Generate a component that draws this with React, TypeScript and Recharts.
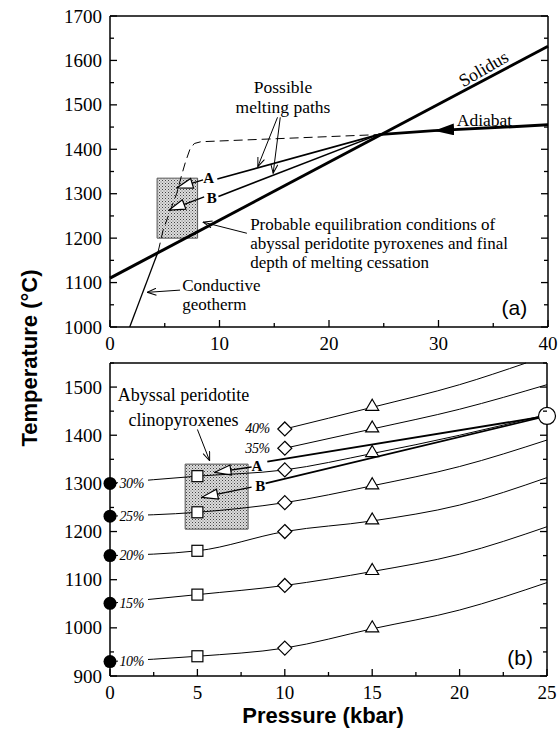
import React from 'react';
import { ComposedChart, Line, Scatter, XAxis, YAxis, ReferenceArea } from 'recharts';

const SERIF = '"Liberation Serif", "Times New Roman", serif';
const SANS = '"Liberation Sans", Arial, sans-serif';

// ---------- panel (a): solidus, adiabat and melting paths ----------
const aPressureTicks = [0, 5, 10, 15, 20, 25, 30, 35, 40];
const aTempTicks = [1000, 1050, 1100, 1150, 1200, 1250, 1300, 1350, 1400, 1450, 1500, 1550, 1600, 1650, 1700];

const solidusP = [0, 40];
const solidusT = [1110, 1632];
const adiabatP = [40, 29.6, 24.5];
const adiabatT = [1455, 1442, 1433];
const geothermP = [1.8, 4.4];
const geothermT = [1000, 1170];
const geothermExtP = [4.4, 4.85, 5.5, 6.1, 6.5, 6.9, 7.3, 7.7, 8.3, 24.5];
const geothermExtT = [1170, 1218, 1262, 1301, 1338, 1372, 1400, 1413, 1417, 1433];
const pathAP = [24.5, 9.8];
const pathAT = [1433, 1333];
const pathBP = [24.5, 9.9];
const pathBT = [1433, 1294];

const aArrowAP = [8.5, 6.1];
const aArrowAT = [1331, 1313];
const aArrowBP = [8.6, 5.4];
const aArrowBT = [1293, 1263];
const pointerPaths1P = [15.3, 13.5];
const pointerPaths1T = [1472, 1361];
const pointerPaths2P = [15.55, 14.9];
const pointerPaths2T = [1472, 1346];
const pointerProbableP = [12.5, 8.5];
const pointerProbableT = [1211, 1236];
const pointerConductiveP = [6.4, 3.4];
const pointerConductiveT = [1083, 1078];

const aBoxP = [4.3, 8.0];
const aBoxT = [1200, 1335];

const aNotes = [
  { p: 15.8, t: 1540, text: 'Possible\nmelting paths', kind: 'center' },
  { p: 34.1, t: 1582, text: 'Solidus', kind: 'rotated' },
  { p: 34.2, t: 1466, text: 'Adiabat', kind: 'center' },
  { p: 12.8, t: 1231, text: 'Probable equilibration conditions of\nabyssal peridotite pyroxenes and final\ndepth of melting cessation', kind: 'left' },
  { p: 6.6, t: 1095, text: 'Conductive\ngeotherm', kind: 'left' },
  { p: 38.1, t: 1043, text: '(a)', kind: 'panel' },
  { p: 9.0, t: 1335, text: 'A', kind: 'letter' },
  { p: 9.3, t: 1292, text: 'B', kind: 'letter' },
];

// ---------- panel (b): isopleths of melting degree ----------
const bPressureTicks = [0, 2.5, 5, 7.5, 10, 12.5, 15, 17.5, 20, 22.5, 25];
const bTempTicks = [900, 950, 1000, 1050, 1100, 1150, 1200, 1250, 1300, 1350, 1400, 1450, 1500, 1550];

const meltLabels = ['10%', '15%', '20%', '25%', '30%', '35%', '40%'];
const fullP = [0, 5, 10, 15, 20, 25];
const melt10T = [930, 941, 958, 998, 1037, 1094];
const melt15T = [1051, 1069, 1088, 1117, 1153, 1210];
const melt20T = [1150, 1160, 1200, 1222, 1255, 1312];
const melt25T = [1232, 1240, 1260, 1295, 1335, 1390];
const melt30T = [1300, 1315, 1328, 1362, 1400, 1443];
const melt35P = [10, 15, 20, 25];
const melt35T = [1373, 1413, 1454, 1505];
const melt40P = [10, 15, 20, 23.8];
const melt40T = [1413, 1458, 1505, 1550];

const bPathAP = [9.0, 25];
const bPathAT = [1345, 1440];
const bPathBP = [8.9, 25];
const bPathBT = [1300, 1440];
const bArrowAP = [8.1, 6.0];
const bArrowAT = [1334, 1323];
const bArrowBP = [8.1, 5.25];
const bArrowBT = [1292, 1271];
const pointerAbyssalP = [5.0, 5.7];
const pointerAbyssalT = [1412, 1347];
const junctionP = [25];
const junctionT = [1440];
const bRightEdgeP = [25, 25];
const bRightEdgeT = [900, 1550];

const bBoxP = [4.3, 7.9];
const bBoxT = [1205, 1340];

const bNotes = [
  { p: 4.2, t: 1484, text: 'Abyssal peridotite\nclinopyroxenes', kind: 'abyssal' },
  { p: 24.2, t: 939, text: '(b)', kind: 'panel' },
  { p: 8.4, t: 1336, text: 'A', kind: 'letter' },
  { p: 8.6, t: 1295, text: 'B', kind: 'letter' },
];

const toPts = (ps: number[], ts: number[]) => ps.map((p, i) => ({ p, t: ts[i] }));

const noteStyles: Record<string, any> = {
  center: { anchor: 'middle', size: 17.5, family: SERIF, lead: 19.5 },
  left: { anchor: 'start', size: 17, family: SERIF, lead: 19 },
  rotated: { anchor: 'middle', size: 18, family: SERIF, lead: 18, rotate: -30 },
  panel: { anchor: 'end', size: 21, family: SANS, lead: 20 },
  letter: { anchor: 'middle', size: 15, family: SERIF, lead: 15, weight: 'bold' },
  abyssal: { anchor: 'middle', size: 18, family: SERIF, lead: 25 },
};

function NoteShape(props: any) {
  const { cx, cy, payload } = props;
  if (cx == null || cy == null) return <g />;
  const st = noteStyles[payload.kind];
  const lines: string[] = payload.text.split('\n');
  return (
    <text
      x={cx}
      y={cy}
      textAnchor={st.anchor}
      fontFamily={st.family}
      fontSize={st.size}
      fontWeight={st.weight || 'normal'}
      fill="#000"
      transform={st.rotate ? `rotate(${st.rotate} ${cx} ${cy})` : undefined}
    >
      {lines.map((ln, i) => (
        <tspan key={i} x={cx} dy={i === 0 ? '0.35em' : st.lead}>
          {ln}
        </tspan>
      ))}
    </text>
  );
}

function JunctionShape(props: any) {
  const { cx, cy } = props;
  if (cx == null || cy == null) return <g />;
  return <circle cx={cx} cy={cy} r={8.5} fill="#fff" stroke="#000" strokeWidth={1.2} />;
}

function FrameTick(props: any) {
  const { x, y, payload, side, step, labels } = props;
  const v = Number(payload.value);
  const major = Math.abs(v / step - Math.round(v / step)) < 1e-6;
  const len = major ? 7 : 4;
  const text = labels && major ? String(v) : null;
  const ln = { stroke: '#000', strokeWidth: 1.3 };
  if (side === 'left') {
    return (
      <g>
        <line x1={x} y1={y} x2={x + len} y2={y} {...ln} />
        {text && (
          <text x={x - 8} y={y + 6.5} textAnchor="end" fontFamily={SERIF} fontSize={19} fill="#000">
            {text}
          </text>
        )}
      </g>
    );
  }
  if (side === 'right') {
    return <line x1={x} y1={y} x2={x - len} y2={y} {...ln} />;
  }
  if (side === 'top') {
    return <line x1={x} y1={y} x2={x} y2={y + len} {...ln} />;
  }
  return (
    <g>
      <line x1={x} y1={y} x2={x} y2={y - len} {...ln} />
      {text && (
        <text x={x} y={y + 23} textAnchor="middle" fontFamily={SERIF} fontSize={19} fill="#000">
          {text}
        </text>
      )}
    </g>
  );
}

function meltDot(label: string) {
  return (props: any) => {
    const { cx, cy, payload, index } = props;
    const key = `d-${label}-${index}`;
    if (cx == null || cy == null) return <g key={key} />;
    const p = payload.p;
    if (p === 0) {
      return (
        <g key={key}>
          <rect x={cx + 8} y={cy - 7} width={30} height={14} fill="#fff" />
          <text x={cx + 9.5} y={cy + 4.5} fontFamily={SERIF} fontStyle="italic" fontSize={14} letterSpacing={-0.4} fill="#000">
            {label}
          </text>
          <circle cx={cx} cy={cy} r={6.5} fill="#000" />
        </g>
      );
    }
    if (p === 5) {
      return <rect key={key} x={cx - 5.5} y={cy - 5.5} width={11} height={11} fill="#fff" stroke="#000" strokeWidth={1.2} />;
    }
    if (p === 10) {
      return (
        <g key={key}>
          {index === 0 && (
            <text x={cx - 15} y={cy + 4.5} textAnchor="end" fontFamily={SERIF} fontStyle="italic" fontSize={14} letterSpacing={-0.4} fill="#000">
              {label}
            </text>
          )}
          <path d={`M${cx},${cy - 7} L${cx + 7},${cy} L${cx},${cy + 7} L${cx - 7},${cy} Z`} fill="#fff" stroke="#000" strokeWidth={1.2} />
        </g>
      );
    }
    if (p === 15) {
      return <path key={key} d={`M${cx},${cy - 8} L${cx + 6.5},${cy + 3} L${cx - 6.5},${cy + 3} Z`} fill="#fff" stroke="#000" strokeWidth={1.2} />;
    }
    return <g key={key} />;
  };
}

function Defs({ id }: { id: string }) {
  return (
    <defs>
      <pattern id={`${id}-stipple`} width={3} height={3} patternUnits="userSpaceOnUse">
        <rect width={3} height={3} fill="#dcdcdc" />
        <rect x={0} y={0} width={1} height={1} fill="#444" />
        <rect x={1.5} y={1.5} width={1} height={1} fill="#777" />
      </pattern>
      <marker id={`${id}-tri`} viewBox="0 0 18 12" markerWidth={18} markerHeight={12} refX={17} refY={6} orient="auto" markerUnits="userSpaceOnUse">
        <path d="M17,6 L1,1 L1,11 Z" fill="#fff" stroke="#000" strokeWidth={1.2} />
      </marker>
      <marker id={`${id}-vee`} viewBox="0 0 10 8" markerWidth={10} markerHeight={8} refX={9.5} refY={4} orient="auto" markerUnits="userSpaceOnUse">
        <path d="M0.5,0.5 L9.5,4 L0.5,7.5" fill="none" stroke="#000" strokeWidth={1} />
      </marker>
      <marker id={`${id}-solid`} viewBox="0 0 20 12" markerWidth={20} markerHeight={12} refX={20} refY={6} orient="auto" markerUnits="userSpaceOnUse">
        <path d="M20,6 L0,0 L0,12 Z" fill="#000" />
      </marker>
    </defs>
  );
}

const axisLine = { stroke: '#000', strokeWidth: 1.5 };

function frameAxes(pDomain: number[], tDomain: number[], pTicks: number[], tTicks: number[], pStep: number, tStep: number, rightLine = true) {
  return [
    <XAxis
      key="xb"
      type="number"
      dataKey="p"
      domain={pDomain}
      ticks={pTicks}
      interval={0}
      height={28}
      tickSize={0}
      tickMargin={0}
      tickLine={false}
      axisLine={axisLine}
      tick={(pr: any) => <FrameTick {...pr} side="bottom" step={pStep} labels />}
    />,
    <XAxis
      key="xt"
      xAxisId="top"
      orientation="top"
      type="number"
      domain={pDomain}
      allowDataOverflow
      ticks={pTicks}
      interval={0}
      height={1}
      tickSize={0}
      tickMargin={0}
      tickLine={false}
      axisLine={axisLine}
      tick={(pr: any) => <FrameTick {...pr} side="top" step={pStep} />}
    />,
    <YAxis
      key="yl"
      type="number"
      dataKey="t"
      domain={tDomain}
      ticks={tTicks}
      interval={0}
      width={60}
      tickSize={0}
      tickMargin={0}
      tickLine={false}
      axisLine={axisLine}
      tick={(pr: any) => <FrameTick {...pr} side="left" step={tStep} labels />}
    />,
    <YAxis
      key="yr"
      yAxisId="right"
      orientation="right"
      type="number"
      domain={tDomain}
      allowDataOverflow
      ticks={tTicks}
      interval={0}
      width={1}
      tickSize={0}
      tickMargin={0}
      tickLine={false}
      axisLine={rightLine ? axisLine : false}
      tick={(pr: any) => <FrameTick {...pr} side="right" step={tStep} />}
    />,
  ];
}

function PanelA() {
  const id = 'pa';
  const thin = { stroke: '#000', strokeWidth: 1, dot: false, activeDot: false, isAnimationActive: false, type: 'linear' as const };
  return (
    <ComposedChart width={560} height={356} margin={{ top: 15, right: 11, bottom: 1, left: 50 }}>
      <Defs id={id} />
      {frameAxes([0, 40], [1000, 1700], aPressureTicks, aTempTicks, 10, 100)}
      <ReferenceArea
        x1={aBoxP[0]}
        x2={aBoxP[1]}
        y1={aBoxT[0]}
        y2={aBoxT[1]}
        fill={`url(#${id}-stipple)`}
        fillOpacity={1}
        stroke="#555"
        strokeWidth={1}
      />
      <Line data={toPts(geothermExtP, geothermExtT)} dataKey="t" {...thin} strokeDasharray="9 5" />
      <Line data={toPts(geothermP, geothermT)} dataKey="t" {...thin} strokeWidth={1.3} />
      <Line data={toPts(solidusP, solidusT)} dataKey="t" {...thin} strokeWidth={3} />
      <Line data={toPts(adiabatP, adiabatT)} dataKey="t" {...thin} strokeWidth={3} markerMid={`url(#${id}-solid)`} />
      <Line data={toPts(pathAP, pathAT)} dataKey="t" {...thin} strokeWidth={1.6} />
      <Line data={toPts(pathBP, pathBT)} dataKey="t" {...thin} strokeWidth={1.6} />
      <Line data={toPts(aArrowAP, aArrowAT)} dataKey="t" {...thin} strokeWidth={1.3} markerEnd={`url(#${id}-tri)`} />
      <Line data={toPts(aArrowBP, aArrowBT)} dataKey="t" {...thin} strokeWidth={1.3} markerEnd={`url(#${id}-tri)`} />
      <Line data={toPts(pointerPaths1P, pointerPaths1T)} dataKey="t" {...thin} markerEnd={`url(#${id}-vee)`} />
      <Line data={toPts(pointerPaths2P, pointerPaths2T)} dataKey="t" {...thin} markerEnd={`url(#${id}-vee)`} />
      <Line data={toPts(pointerProbableP, pointerProbableT)} dataKey="t" {...thin} markerEnd={`url(#${id}-vee)`} />
      <Line data={toPts(pointerConductiveP, pointerConductiveT)} dataKey="t" {...thin} markerEnd={`url(#${id}-vee)`} />
      <Scatter data={aNotes} dataKey="t" shape={NoteShape} isAnimationActive={false} />
    </ComposedChart>
  );
}

function PanelB() {
  const id = 'pb';
  const curve = { stroke: '#000', strokeWidth: 1, activeDot: false, isAnimationActive: false, type: 'monotone' as const };
  const thin = { stroke: '#000', strokeWidth: 1, dot: false, activeDot: false, isAnimationActive: false, type: 'linear' as const };
  return (
    <ComposedChart width={560} height={386} margin={{ top: 17, right: 12, bottom: 27, left: 50 }}>
      <Defs id={id} />
      {frameAxes([0, 25], [900, 1550], bPressureTicks, bTempTicks, 5, 100, false)}
      <ReferenceArea
        x1={bBoxP[0]}
        x2={bBoxP[1]}
        y1={bBoxT[0]}
        y2={bBoxT[1]}
        fill={`url(#${id}-stipple)`}
        fillOpacity={1}
        stroke="#555"
        strokeWidth={1}
      />
      <Line data={toPts(bRightEdgeP, bRightEdgeT)} dataKey="t" {...thin} strokeWidth={1.5} />
      <Line data={toPts(pointerAbyssalP, pointerAbyssalT)} dataKey="t" {...thin} markerEnd={`url(#${id}-vee)`} />
      <Line data={toPts(bPathAP, bPathAT)} dataKey="t" {...thin} strokeWidth={1.8} />
      <Line data={toPts(bPathBP, bPathBT)} dataKey="t" {...thin} strokeWidth={1.8} />
      <Line data={toPts(bArrowAP, bArrowAT)} dataKey="t" {...thin} strokeWidth={1.3} markerEnd={`url(#${id}-tri)`} />
      <Line data={toPts(bArrowBP, bArrowBT)} dataKey="t" {...thin} strokeWidth={1.3} markerEnd={`url(#${id}-tri)`} />
      <Line data={toPts(fullP, melt10T)} dataKey="t" {...curve} dot={meltDot(meltLabels[0])} />
      <Line data={toPts(fullP, melt15T)} dataKey="t" {...curve} dot={meltDot(meltLabels[1])} />
      <Line data={toPts(fullP, melt20T)} dataKey="t" {...curve} dot={meltDot(meltLabels[2])} />
      <Line data={toPts(fullP, melt25T)} dataKey="t" {...curve} dot={meltDot(meltLabels[3])} />
      <Line data={toPts(fullP, melt30T)} dataKey="t" {...curve} dot={meltDot(meltLabels[4])} />
      <Line data={toPts(melt35P, melt35T)} dataKey="t" {...curve} dot={meltDot(meltLabels[5])} />
      <Line data={toPts(melt40P, melt40T)} dataKey="t" {...curve} dot={meltDot(meltLabels[6])} />
      <Scatter data={toPts(junctionP, junctionT)} dataKey="t" shape={JunctionShape} isAnimationActive={false} />
      <Scatter data={bNotes} dataKey="t" shape={NoteShape} isAnimationActive={false} />
    </ComposedChart>
  );
}

export default function App() {
  return (
    <div style={{ position: 'absolute', left: 0, top: 0, width: 560, height: 731, background: '#fff', overflow: 'hidden' }}>
      <div style={{ position: 'absolute', left: 0, top: 0 }}>
        <PanelA />
      </div>
      <div style={{ position: 'absolute', left: 0, top: 345 }}>
        <PanelB />
      </div>
      <div
        style={{
          position: 'absolute',
          left: 30,
          top: 358,
          transform: 'translate(-50%, -50%) rotate(-90deg)',
          whiteSpace: 'nowrap',
          fontFamily: SANS,
          fontWeight: 'bold',
          fontSize: 22,
        }}
      >
        Temperature (°C)
      </div>
      <div
        style={{
          position: 'absolute',
          left: 323,
          top: 716,
          transform: 'translate(-50%, -50%)',
          whiteSpace: 'nowrap',
          fontFamily: SANS,
          fontWeight: 'bold',
          fontSize: 22,
        }}
      >
        Pressure (kbar)
      </div>
    </div>
  );
}
